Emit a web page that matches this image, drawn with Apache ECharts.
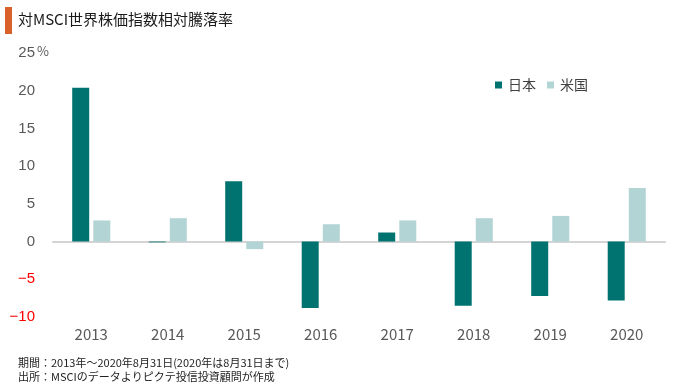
<!DOCTYPE html>
<html>
<head>
<meta charset="utf-8">
<script src="https://cdn.jsdelivr.net/npm/echarts@6/dist/echarts.min.js"></script>
<style>
html,body{margin:0;padding:0;background:#fff;}
#chart{width:680px;height:389px;}
</style>
</head>
<body>
<div id="chart"></div>
<script>
var categories = ['2013','2014','2015','2016','2017','2018','2019','2020'];
var japan = [20.4, -0.1, 8.0, -8.8, 1.2, -8.5, -7.2, -7.8];
var usa = [2.8, 3.1, -1.0, 2.3, 2.8, 3.1, 3.4, 7.1];
var seriesNames = ['日本', '米国'];
var titleText = '対MSCI世界株価指数相対騰落率';
var note1 = '期間：2013年～2020年8月31日(2020年は8月31日まで)';
var note2 = '出所：MSCIのデータよりピクテ投信投資顧問が作成';

var FONT = '"Noto Sans CJK JP", "Noto Sans", sans-serif';
function labelColor(v, i) {
  var raw = v;
  if (raw && typeof raw === 'object') { raw = (raw.value != null) ? raw.value : raw.tickValue; }
  var n = (typeof raw === 'number') ? raw : parseFloat(String(raw).replace('\u2212', '-'));
  if (isNaN(n) && typeof i === 'number') { return i < 2 ? '#ff0000' : '#595959'; }
  return n < 0 ? '#ff0000' : '#595959';
}
var chart = echarts.init(document.getElementById('chart'));
chart.setOption({
  animation: false,
  backgroundColor: '#ffffff',
  grid: {left: 53, right: 15, top: 53, bottom: 72, containLabel: false},
  legend: {
    data: seriesNames,
    left: 490, top: 73,
    icon: 'rect', itemWidth: 7, itemHeight: 7, itemGap: 11,
    textStyle: {fontSize: 14, color: '#404040', fontFamily: FONT, padding: [0,0,0,1]}
  },
  graphic: [
    {type: 'rect', shape: {x: 5, y: 7, width: 7, height: 27}, style: {fill: '#d8622a'}},
    {type: 'text', left: 18, top: 12, style: {text: titleText, fontSize: 15, fill: '#1a1a1a', fontFamily: FONT}},
    {type: 'text', left: 37, top: 45, style: {text: '%', fontSize: 13, fill: '#595959', fontFamily: FONT}},
    {type: 'text', left: 18, top: 357, style: {text: note1, fontSize: 11, fill: '#222', fontFamily: FONT}},
    {type: 'text', left: 18, top: 371, style: {text: note2, fontSize: 11, fill: '#222', fontFamily: FONT}}
  ],
  xAxis: [
    {
      type: 'category', data: categories,
      axisLine: {onZero: true, lineStyle: {color: '#d4d4d4', width: 2}},
      axisTick: {show: false}, axisLabel: {show: false}, splitLine: {show: false}
    },
    {
      type: 'category', data: categories, position: 'bottom',
      axisLine: {show: false, onZero: false}, axisTick: {show: false},
      axisLabel: {margin: 10, fontSize: 15, color: '#595959', fontFamily: FONT},
      splitLine: {show: false}
    }
  ],
  yAxis: {
    type: 'value', min: -10, max: 25, interval: 5,
    axisLine: {show: false}, axisTick: {show: false}, splitLine: {show: false},
    axisLabel: {
      margin: 18, fontSize: 15,
      color: labelColor,
      formatter: function (v) { return v < 0 ? '\u2212' + Math.abs(v) : String(v); }
    }
  },
  series: [
    {name: seriesNames[0], type: 'bar', data: japan, barWidth: 17, barGap: '24%',
     itemStyle: {color: '#007370'}},
    {name: seriesNames[1], type: 'bar', data: usa, barWidth: 17, barGap: '24%',
     itemStyle: {color: '#b3d4d5'}}
  ]
});
</script>
</body>
</html>
